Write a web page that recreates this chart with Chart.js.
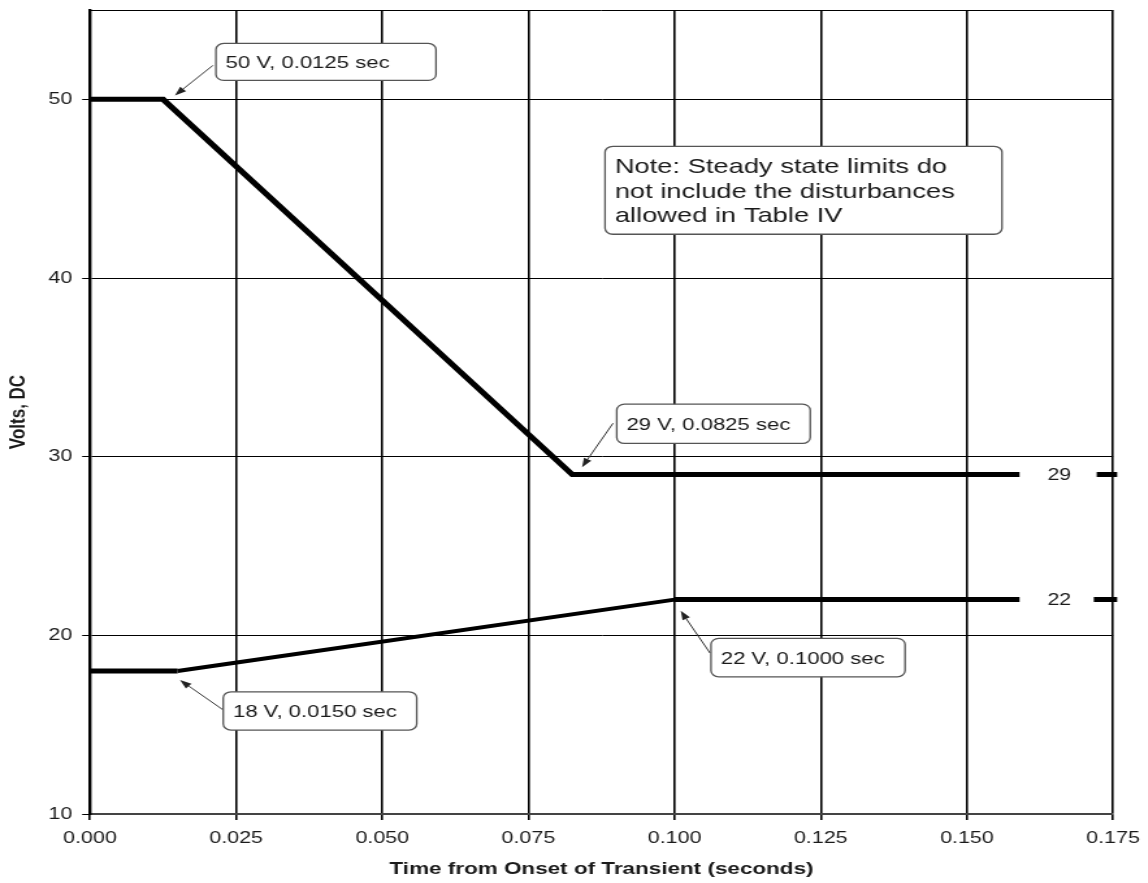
<!DOCTYPE html>
<html><head><meta charset="utf-8">
<script src="https://cdn.jsdelivr.net/npm/chart.js@4.4.1/dist/chart.umd.min.js"></script>
<style>
html,body{margin:0;padding:0;background:#fff;overflow:hidden;}
#wrap{position:absolute;left:0;top:0;width:883px;height:883px;transform:scaleX(1.3);transform-origin:0 0;}
</style></head><body>
<div id="wrap"><canvas id="c"></canvas></div>
<script>
// ---- data ----
const xTicks = [0, 0.025, 0.05, 0.075, 0.1, 0.125, 0.15, 0.175];
const yTicks = [10, 20, 30, 40, 50];
const upperX = [0, 0.0125, 0.0825, 0.159];
const upperY = [50, 50, 29, 29];
const lowerX = [0, 0.015, 0.1, 0.159];
const lowerY = [18, 18, 22, 22];
const upperTailX = [0.1722, 0.1757];
const upperTailY = [29, 29];
const lowerTailX = [0.1717, 0.1757];
const lowerTailY = [22, 22];
const endLabelText = ['29', '22'];
const calloutText = ['50 V, 0.0125 sec', '29 V, 0.0825 sec', '18 V, 0.0150 sec', '22 V, 0.1000 sec'];
const noteLines = ['Note: Steady state limits do', 'not include the disturbances', 'allowed in Table IV'];
const xTitle = 'Time from Onset of Transient (seconds)';
const yTitle = 'Volts, DC';

const pts = (xs, ys) => xs.map((v, i) => ({x: v, y: ys[i]}));
const FONT = "'Liberation Sans', Arial, sans-serif";

const calloutPlugin = {
  id: 'callouts',
  afterDatasetsDraw(chart, args, opts) {
    const {ctx, chartArea} = chart;
    const sx = chart.scales.x, sy = chart.scales.y;
    const X = v => sx.getPixelForValue(v), Y = v => sy.getPixelForValue(v);
    ctx.save();
    // top frame line
    ctx.strokeStyle = '#000'; ctx.lineWidth = 1;
    ctx.beginPath(); ctx.moveTo(chartArea.left, Math.round(chartArea.top) + 0.5);
    ctx.lineTo(chartArea.right, Math.round(chartArea.top) + 0.5); ctx.stroke();

    const drawArrow = (from, to) => {
      const x0 = X(from[0]), y0 = Y(from[1]), x1 = X(to[0]), y1 = Y(to[1]);
      const ang = Math.atan2(y1 - y0, x1 - x0);
      const L = 9, W = 3.2;
      const bx = x1 - L * Math.cos(ang), by = y1 - L * Math.sin(ang);
      ctx.strokeStyle = '#333'; ctx.lineWidth = 1;
      ctx.beginPath(); ctx.moveTo(x0, y0); ctx.lineTo(bx, by); ctx.stroke();
      ctx.fillStyle = '#222';
      ctx.beginPath(); ctx.moveTo(x1, y1);
      ctx.lineTo(bx + W * Math.sin(ang), by - W * Math.cos(ang));
      ctx.lineTo(bx - W * Math.sin(ang), by + W * Math.cos(ang));
      ctx.closePath(); ctx.fill();
    };
    const drawBox = (box) => {
      const x1 = X(box[0]), y1 = Y(box[1]), x2 = X(box[2]), y2 = Y(box[3]);
      ctx.beginPath(); ctx.roundRect(x1, y1, x2 - x1, y2 - y1, 6);
      ctx.fillStyle = '#fff'; ctx.fill();
      ctx.strokeStyle = '#555'; ctx.lineWidth = 1.3; ctx.stroke();
      return [x1, y1, x2, y2];
    };

    opts.items.forEach((it, i) => {
      drawArrow(it.from, it.to);
      const [x1, y1, x2, y2] = drawBox(it.box);
      ctx.fillStyle = '#1a1a1a';
      ctx.font = '17px ' + FONT;
      ctx.textAlign = 'left'; ctx.textBaseline = 'alphabetic';
      ctx.fillText(calloutText[i], x1 + 7.5, (y1 + y2) / 2 + 6.1);
    });

    // note box
    const [nx1, ny1] = drawBox(opts.note.box);
    ctx.fillStyle = '#1a1a1a';
    ctx.font = '21px ' + FONT;
    ctx.textAlign = 'left'; ctx.textBaseline = 'alphabetic';
    noteLines.forEach((l, i) => ctx.fillText(l, nx1 + 7.5, ny1 + 27 + i * 24.3));

    // end labels
    ctx.font = '16.5px ' + FONT;
    ctx.textAlign = 'center'; ctx.textBaseline = 'middle';
    opts.endLabels.forEach((p, i) => ctx.fillText(endLabelText[i], X(p[0]), Y(p[1]) + 1));
    ctx.restore();
  }
};

const lineBase = {borderColor: '#000', pointRadius: 0, tension: 0, borderCapStyle: 'butt', borderJoinStyle: 'miter', fill: false};

new Chart(document.getElementById('c'), {
  type: 'line',
  data: {
    datasets: [
      Object.assign({data: pts(upperX, upperY), borderWidth: 5}, lineBase),
      Object.assign({data: pts(lowerX, lowerY), borderWidth: 5,
        segment: {borderWidth: c => c.p0DataIndex === 1 ? 4 : 5}}, lineBase),
      Object.assign({data: pts(upperTailX, upperTailY), borderWidth: 5, clip: 10}, lineBase),
      Object.assign({data: pts(lowerTailX, lowerTailY), borderWidth: 5, clip: 10}, lineBase)
    ]
  },
  options: {
    responsive: true,
    maintainAspectRatio: false,
    devicePixelRatio: 1,
    animation: false,
    layout: {padding: {top: 10, right: 26.8, left: 0, bottom: 0}},
    plugins: {
      legend: {display: false},
      tooltip: {enabled: false},
      callouts: {
        items: [
          {box: [0.02155, 53.13, 0.05919, 51.06], from: [0.02104, 51.90], to: [0.01454, 50.22]},
          {box: [0.0901, 32.94, 0.1232, 30.74], from: [0.08947, 31.87], to: [0.08417, 29.41]},
          {box: [0.0228, 16.84, 0.05589, 14.70], from: [0.02281, 15.82], to: [0.0154, 17.50]},
          {box: [0.10623, 19.83, 0.13942, 17.68], from: [0.10606, 19.01], to: [0.10105, 21.37]}
        ],
        note: {box: [0.0881, 47.37, 0.156, 42.45]},
        endLabels: [[0.1658, 29], [0.1658, 22]]
      }
    },
    scales: {
      x: {
        type: 'linear', min: 0, max: 0.175,
        afterBuildTicks: s => { s.ticks = xTicks.map(v => ({value: v})); },
        afterFit: s => { s.height = 69; s.paddingLeft = 0; s.paddingRight = 0; },
        ticks: {callback: v => Number(v).toFixed(3), font: {family: FONT, size: 16.5}, color: '#1a1a1a', padding: 9, maxRotation: 0, autoSkip: false},
        grid: {color: '#000', lineWidth: 1.6, tickLength: 6},
        border: {color: '#444', width: 2},
        title: {display: true, text: xTitle, font: {family: FONT, size: 17.3, weight: 'bold'}, color: '#1a1a1a', padding: {top: 0, bottom: 3}}
      },
      y: {
        type: 'linear', min: 10, max: 55,
        afterBuildTicks: s => { s.ticks = yTicks.map(v => ({value: v})); },
        afterFit: s => { s.width = 69.2; s.paddingTop = 0; s.paddingBottom = 0; },
        ticks: {font: {family: FONT, size: 16.5}, color: '#1a1a1a', padding: 7.5},
        grid: {color: '#000', lineWidth: 1, tickLength: 6},
        border: {color: '#000', width: 2.4},
        title: {display: true, text: yTitle, font: {family: FONT, size: 17, weight: 'bold'}, color: '#1a1a1a', padding: {top: 4, bottom: 0}}
      }
    }
  },
  plugins: [calloutPlugin]
});
</script>
</body></html>
